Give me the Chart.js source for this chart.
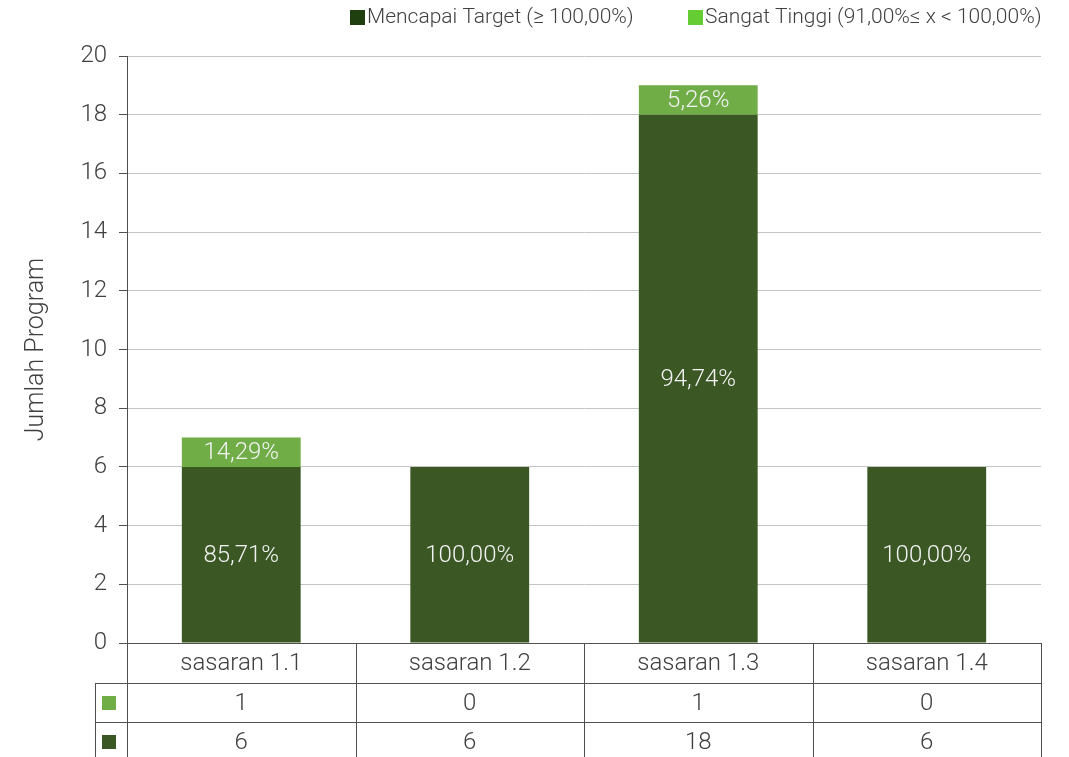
<!DOCTYPE html>
<html>
<head>
<meta charset="utf-8">
<script src="https://cdn.jsdelivr.net/npm/chart.js@4.4.1/dist/chart.umd.min.js"></script>
<style>
  html, body { margin: 0; padding: 0; background: #fff; }
  #wrap { width: 1069px; height: 757px; }
</style>
</head>
<body>
<div id="wrap"><canvas id="programChart" width="1069" height="757"></canvas></div>
<script>
  const categories = ['sasaran 1.1', 'sasaran 1.2', 'sasaran 1.3', 'sasaran 1.4'];
  const seriesNames = ['Mencapai Target (\u2265 100,00%)', 'Sangat Tinggi (91,00%\u2264 x < 100,00%)'];
  const mencapaiValues = [6, 6, 18, 6];
  const sangatTinggiValues = [1, 0, 1, 0];
  const mencapaiLabels = ['85,71%', '100,00%', '94,74%', '100,00%'];
  const sangatTinggiLabels = ['14,29%', '', '5,26%', ''];
  const yMin = 0;
  const yMax = 20;
  const yStep = 2;

  const barColors = ['#3a5724', '#70ad47'];
  const legendColors = ['#1f3f10', '#66cc33'];
  const textColor = '#404040';
  const lineColor = '#505050';
  const fontFamily = 'Roboto, "Noto Sans", sans-serif';

  // table rows under the plot: top (light) row first, as in the picture
  const tableRows = [
    { color: barColors[1], values: sangatTinggiValues },
    { color: barColors[0], values: mencapaiValues },
  ];

  const barLabelPlugin = {
    id: 'barLabels',
    afterDatasetsDraw(chart) {
      const { ctx } = chart;
      const labelSets = [mencapaiLabels, sangatTinggiLabels];
      ctx.save();
      ctx.font = `300 24px ${fontFamily}`;
      ctx.fillStyle = '#f2f2f2';
      ctx.textAlign = 'center';
      ctx.textBaseline = 'middle';
      chart.data.datasets.forEach((ds, di) => {
        const meta = chart.getDatasetMeta(di);
        meta.data.forEach((bar, i) => {
          const text = labelSets[di][i];
          if (!text) return;
          const props = bar.getProps(['x', 'y', 'base'], true);
          ctx.fillText(text, props.x, (props.y + props.base) / 2 + 1);
        });
      });
      ctx.restore();
    },
  };

  const tablePlugin = {
    id: 'dataTable',
    afterDraw(chart) {
      const { ctx, chartArea } = chart;
      const xScale = chart.scales.x;
      const left = chartArea.left;
      const right = chartArea.right;
      const top = chartArea.bottom;
      const headerH = 40;
      const rowH = 39;
      const keyLeft = 95;
      const bottom = top + headerH + rowH * tableRows.length;
      const colW = (right - left) / categories.length;

      ctx.save();
      ctx.strokeStyle = lineColor;
      ctx.lineWidth = 1;

      ctx.beginPath();
      // zero line with tick
      ctx.moveTo(left - 8, top + 0.5);
      ctx.lineTo(right, top + 0.5);
      // row lines
      for (let r = 0; r <= tableRows.length; r++) {
        const y = Math.round(top + headerH + rowH * r) + 0.5;
        ctx.moveTo(keyLeft, y);
        ctx.lineTo(right, y);
      }
      // column lines
      for (let c = 0; c <= categories.length; c++) {
        const x = Math.round(left + colW * c) + 0.5;
        ctx.moveTo(x, top);
        ctx.lineTo(x, bottom);
      }
      ctx.moveTo(keyLeft + 0.5, top + headerH);
      ctx.lineTo(keyLeft + 0.5, bottom);
      ctx.stroke();

      ctx.font = `300 24px ${fontFamily}`;
      ctx.fillStyle = textColor;
      ctx.textAlign = 'center';
      ctx.textBaseline = 'middle';
      categories.forEach((cat, i) => {
        ctx.fillText(cat, xScale.getPixelForValue(i), top + headerH / 2 + 1);
      });

      tableRows.forEach((row, r) => {
        const cy = top + headerH + rowH * r + rowH / 2;
        ctx.fillStyle = row.color;
        ctx.fillRect(keyLeft + 7, Math.round(cy - 7), 14, 14);
        ctx.fillStyle = textColor;
        row.values.forEach((v, i) => {
          ctx.fillText(String(v), xScale.getPixelForValue(i), cy + 1);
        });
      });

      // legend
      ctx.font = `300 21px ${fontFamily}`;
      ctx.textAlign = 'left';
      const legendX = [350, 688];
      seriesNames.forEach((name, i) => {
        ctx.fillStyle = legendColors[i];
        ctx.fillRect(legendX[i], 10, 15, 15);
        ctx.fillStyle = textColor;
        ctx.fillText(name, legendX[i] + 17, 18);
      });
      ctx.restore();
    },
  };

  new Chart(document.getElementById('programChart'), {
    type: 'bar',
    data: {
      labels: categories,
      datasets: [
        {
          label: seriesNames[0],
          data: mencapaiValues,
          backgroundColor: barColors[0],
          categoryPercentage: 1,
          barPercentage: 0.52,
        },
        {
          label: seriesNames[1],
          data: sangatTinggiValues,
          backgroundColor: barColors[1],
          categoryPercentage: 1,
          barPercentage: 0.52,
        },
      ],
    },
    options: {
      responsive: false,
      animation: false,
      layout: { padding: { top: 56, right: 28, bottom: 114, left: 0 } },
      plugins: {
        legend: { display: false },
        tooltip: { enabled: false },
      },
      scales: {
        x: {
          stacked: true,
          ticks: { display: false },
          grid: { display: false },
          border: { display: false },
          afterFit: (scale) => { scale.height = 0; },
        },
        y: {
          stacked: true,
          min: yMin,
          max: yMax,
          ticks: {
            stepSize: yStep,
            padding: 12,
            color: textColor,
            font: { family: fontFamily, size: 24, weight: '300' },
          },
          grid: { color: '#c4c4c4', tickColor: lineColor, tickLength: 8 },
          border: { display: true, color: lineColor },
          title: {
            display: true,
            text: 'Jumlah Program',
            color: textColor,
            padding: { top: 22, bottom: 0 },
            font: { family: fontFamily, size: 25, weight: '300' },
          },
          afterFit: (scale) => { scale.width = 127; },
        },
      },
    },
    plugins: [barLabelPlugin, tablePlugin],
  });
</script>
</body>
</html>
